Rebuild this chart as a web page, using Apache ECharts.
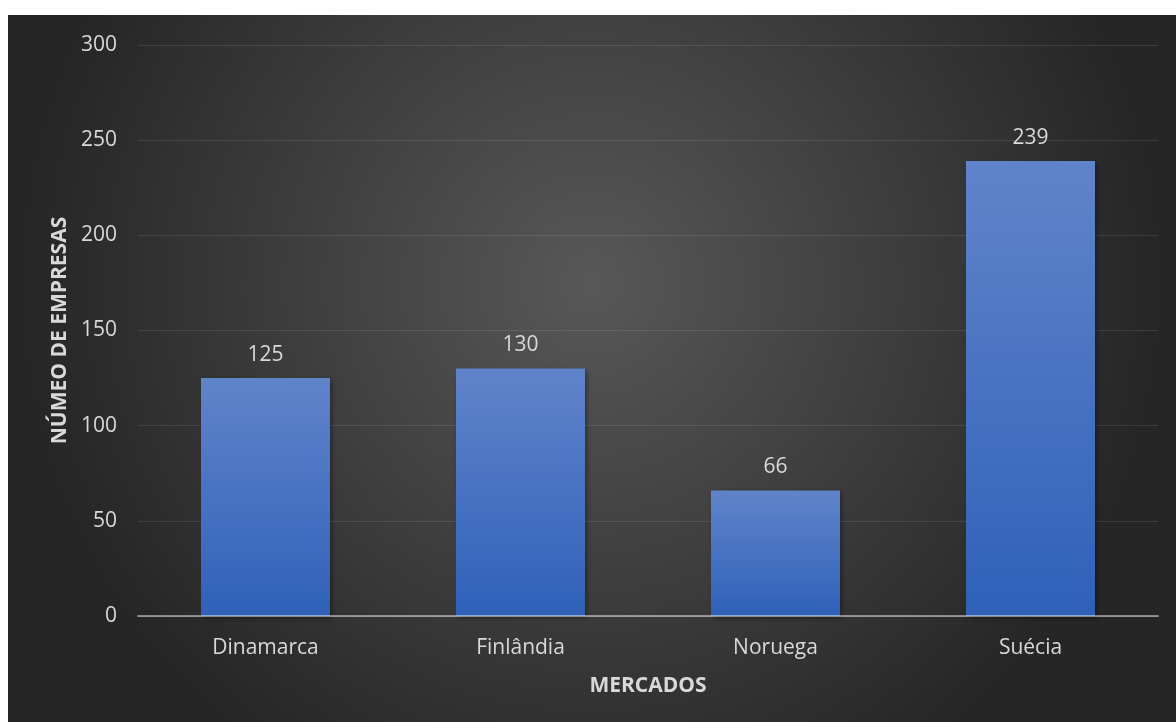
<!DOCTYPE html>
<html>
<head>
<meta charset="utf-8">
<script src="https://cdn.jsdelivr.net/npm/echarts@6/dist/echarts.min.js"></script>
<style>
  html, body { margin: 0; padding: 0; background: #fff; }
  #chart { position: absolute; left: 8px; top: 15px; width: 1168px; height: 707px; }
</style>
</head>
<body>
<div id="chart"></div>
<script>
// data
const mercados = ['Dinamarca', 'Finlândia', 'Noruega', 'Suécia']
const empresas = [125, 130, 66, 239]
const yTicks = { min: 0, max: 300, interval: 50 }

const textColor = '#d9d9d9'
const font = '"Open Sans", "Noto Sans", sans-serif'

const chart = echarts.init(document.getElementById('chart'))

chart.setOption({
  backgroundColor: new echarts.graphic.RadialGradient(0.5, 0.38, 0.8, [
    { offset: 0, color: '#585858' },
    { offset: 1, color: '#262626' },
  ]),
  grid: { left: 130, right: 18, top: 30, bottom: 106 },
  xAxis: {
    type: 'category',
    data: mercados,
    z: 3,
    name: 'MERCADOS',
    nameLocation: 'middle',
    nameGap: 60,
    nameTextStyle: { color: textColor, fontSize: 21, fontWeight: 'bold', fontFamily: font },
    axisLine: { lineStyle: { color: 'rgba(255,255,255,0.45)', width: 2 } },
    axisTick: { show: false },
    axisLabel: { color: textColor, fontSize: 21, margin: 22, fontFamily: font },
  },
  yAxis: {
    type: 'value',
    min: yTicks.min,
    max: yTicks.max,
    interval: yTicks.interval,
    name: 'NÚMEO DE EMPRESAS',
    nameLocation: 'middle',
    nameGap: 67,
    nameTextStyle: { color: textColor, fontSize: 21, fontWeight: 'bold', fontFamily: font },
    axisLine: { show: false },
    axisTick: { show: false },
    axisLabel: { color: textColor, fontSize: 21, margin: 21, fontFamily: font },
    splitLine: { lineStyle: { color: 'rgba(255,255,255,0.1)', width: 1 } },
  },
  series: [
    {
      type: 'bar',
      data: empresas,
      barWidth: '50.6%',
      itemStyle: {
        color: new echarts.graphic.LinearGradient(0, 0, 0, 1, [
          { offset: 0, color: '#6084ca' },
          { offset: 1, color: '#2f61b9' },
        ]),
        shadowColor: 'rgba(0,0,0,0.45)',
        shadowBlur: 5,
        shadowOffsetX: 2,
        shadowOffsetY: 2,
      },
      label: {
        show: true,
        position: 'top',
        distance: 13,
        color: textColor,
        fontSize: 21,
        fontFamily: font,
      },
    },
  ],
})
</script>
</body>
</html>
